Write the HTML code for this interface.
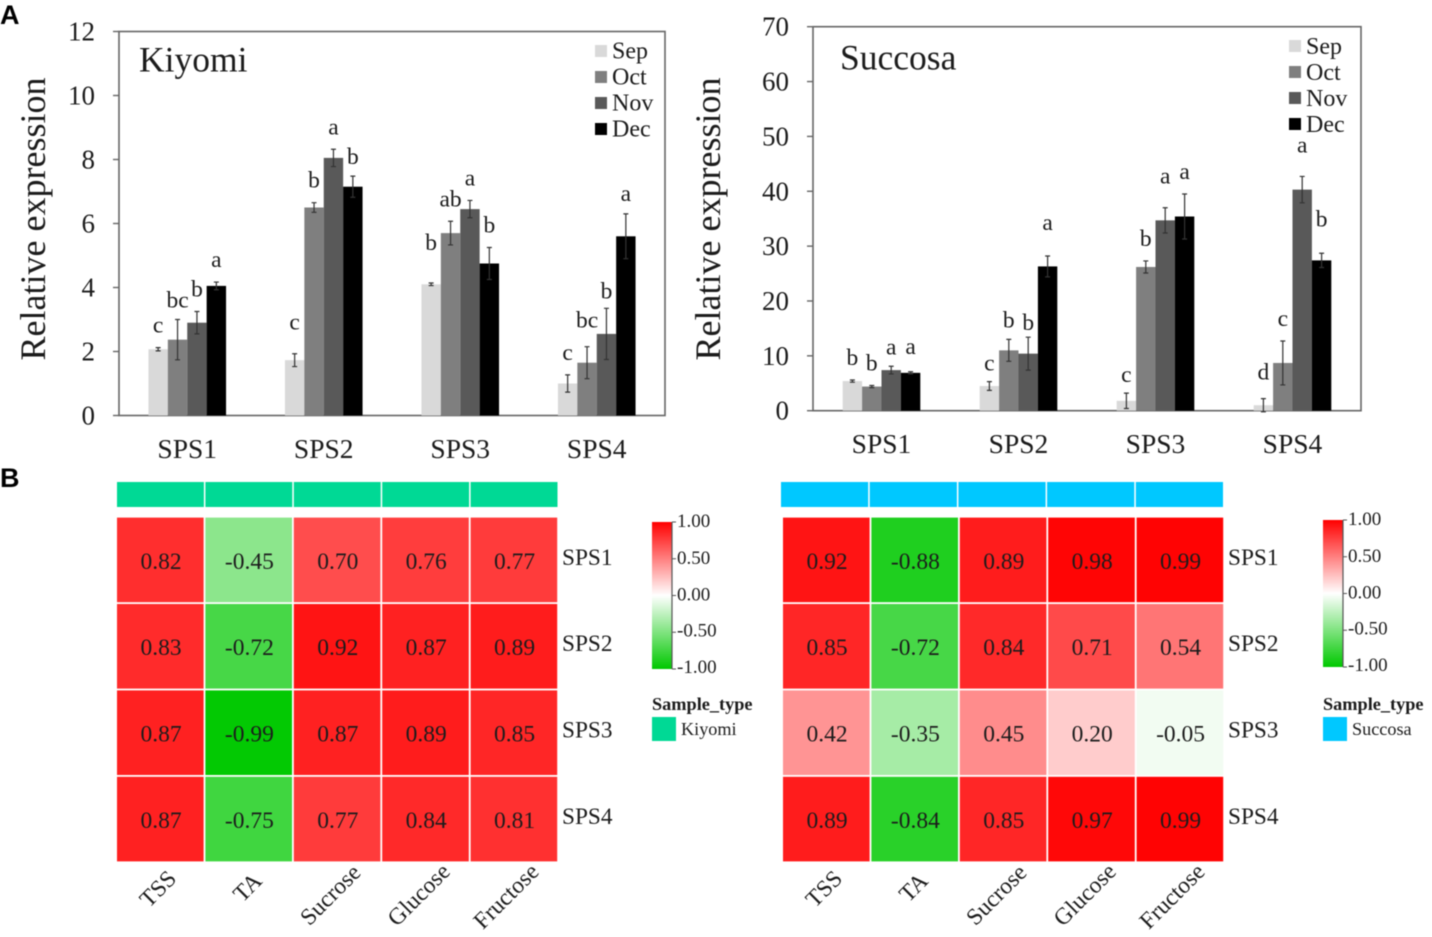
<!DOCTYPE html>
<html lang="en">
<head>
<meta charset="utf-8">
<title>Relative expression and correlation heatmaps</title>
<style>
html,body{margin:0;padding:0;background:#fff;width:1432px;height:937px;overflow:hidden}
svg{display:block;filter:blur(0.55px)}
text{font-family:"Liberation Serif",serif;fill:#1c1c1c}
.panel{font-family:"Liberation Sans",sans-serif;font-weight:700;font-size:27px;fill:#000}
</style>
</head>
<body>
<svg id="fig" xmlns="http://www.w3.org/2000/svg" width="1432" height="937" viewBox="0 0 1432 937">
  <text class="panel" x="0" y="24">A</text>
  <text class="panel" x="0" y="487">B</text>
  <g id="chart-kiyomi"></g>
  <g id="chart-succosa"></g>
  <g id="heat-kiyomi"></g>
  <g id="heat-succosa"></g>
</svg>
<script>
/* ---- bar chart data ---- */
const genes = ['SPS1', 'SPS2', 'SPS3', 'SPS4'];
const months = ['Sep', 'Oct', 'Nov', 'Dec'];
const kiyomiTicks = [0, 2, 4, 6, 8, 10, 12];
const succosaTicks = [0, 10, 20, 30, 40, 50, 60, 70];

const kiyomiSep = [2.07, 1.73, 4.10, 1.00];
const kiyomiOct = [2.37, 6.50, 5.70, 1.65];
const kiyomiNov = [2.90, 8.05, 6.45, 2.55];
const kiyomiDec = [4.05, 7.15, 4.75, 5.60];
const kiyomiSepErr = [0.05, 0.20, 0.04, 0.27];
const kiyomiOctErr = [0.63, 0.15, 0.37, 0.50];
const kiyomiNovErr = [0.35, 0.27, 0.27, 0.80];
const kiyomiDecErr = [0.12, 0.33, 0.50, 0.70];
const kiyomiSepSig = ['c', 'c', 'b', 'c'];
const kiyomiOctSig = ['bc', 'b', 'ab', 'bc'];
const kiyomiNovSig = ['b', 'a', 'a', 'b'];
const kiyomiDecSig = ['a', 'b', 'b', 'a'];

const succosaSep = [5.4, 4.5, 1.8, 1.0];
const succosaOct = [4.4, 11.0, 26.2, 8.7];
const succosaNov = [7.4, 10.4, 34.7, 40.3];
const succosaDec = [6.9, 26.3, 35.4, 27.4];
const succosaSepErr = [0.2, 0.8, 1.4, 1.2];
const succosaOctErr = [0.2, 2.0, 1.1, 4.0];
const succosaNovErr = [0.7, 3.0, 2.3, 2.4];
const succosaDecErr = [0.2, 1.9, 4.1, 1.3];
const succosaSepSig = ['b', 'c', 'c', 'd'];
const succosaOctSig = ['b', 'b', 'b', 'c'];
const succosaNovSig = ['a', 'b', 'a', 'a'];
const succosaDecSig = ['a', 'a', 'a', 'b'];

/* ---- heatmap data ---- */
const traits = ['TSS', 'TA', 'Sucrose', 'Glucose', 'Fructose'];
const heatGenes = ['SPS1', 'SPS2', 'SPS3', 'SPS4'];
const scaleTicks = ['1.00', '0.50', '0.00', '-0.50', '-1.00'];
const kiyomiSps1 = ['0.82', '-0.45', '0.70', '0.76', '0.77'];
const kiyomiSps2 = ['0.83', '-0.72', '0.92', '0.87', '0.89'];
const kiyomiSps3 = ['0.87', '-0.99', '0.87', '0.89', '0.85'];
const kiyomiSps4 = ['0.87', '-0.75', '0.77', '0.84', '0.81'];
const succosaSps1 = ['0.92', '-0.88', '0.89', '0.98', '0.99'];
const succosaSps2 = ['0.85', '-0.72', '0.84', '0.71', '0.54'];
const succosaSps3 = ['0.42', '-0.35', '0.45', '0.20', '-0.05'];
const succosaSps4 = ['0.89', '-0.84', '0.85', '0.97', '0.99'];

const SVGNS = 'http://www.w3.org/2000/svg';
const barFills = ['#d9d9d9', '#7f7f7f', '#595959', '#000000'];

function make(tag, attrs, parent, name, content) {
  const el = document.createElementNS(SVGNS, tag);
  for (const k in attrs) el.setAttribute(k, attrs[k]);
  
  
  if (content !== undefined) el.textContent = content;
  parent.appendChild(el);
  return el;
}

function drawBars(opts) {
  const g = document.getElementById(opts.id);
  const L = opts.left, R = opts.right, T = opts.top, B = opts.bottom;
  const yMax = opts.ticks[opts.ticks.length - 1];
  const y = v => B - (v / yMax) * (B - T);
  const band = (R - L) / genes.length;
  const bw = 19.4;
  const x = (gi, si) => L + band * (gi + 0.5) + (si - 2) * bw;

  make('rect', {x: L, y: T, width: R - L, height: B - T, fill: 'none', stroke: '#666', 'stroke-width': 1.6}, g, 'plot-frame');
  opts.ticks.forEach(t => {
    make('line', {x1: L - 6, x2: L, y1: y(t), y2: y(t), stroke: '#666', 'stroke-width': 1.4}, g, 'y-tick');
    make('text', {x: L - 24, y: y(t) + 9, 'text-anchor': 'end', 'font-size': 27}, g, 'y-tick-label', t);
  });
  make('text', {transform: 'translate(' + opts.titleX + ' 219) rotate(-90)', 'text-anchor': 'middle', 'font-size': 36}, g, 'y-axis-title', 'Relative expression');
  make('text', {x: opts.nameX, y: T + opts.nameDy, 'font-size': 35.5}, g, 'cultivar-title', opts.name);

  opts.series.forEach((vals, si) => {
    vals.forEach((v, gi) => {
      make('rect', {x: x(gi, si), y: y(v), width: bw, height: B - y(v), fill: barFills[si]}, g, 'bar-' + months[si].toLowerCase() + '-' + genes[gi].toLowerCase());
    });
  });
  opts.series.forEach((vals, si) => {
    vals.forEach((v, gi) => {
      const cx = x(gi, si) + bw / 2, e = opts.errors[si][gi];
      const hi = y(v + e), lo = y(v - e);
      const lift = (opts.letterLift[si + '-' + gi]) || 0;
      make('path', {d: 'M' + cx + ' ' + hi + 'V' + lo + 'M' + (cx - 2.5) + ' ' + hi + 'H' + (cx + 2.5) + 'M' + (cx - 2.5) + ' ' + lo + 'H' + (cx + 2.5), stroke: '#333', 'stroke-width': 1.2, fill: 'none'}, g, 'error-bar');
      make('text', {x: cx, y: hi - 15 - lift, 'text-anchor': 'middle', 'font-size': 23.5}, g, 'significance-letter', opts.letters[si][gi]);
    });
  });
  genes.forEach((n, gi) => {
    make('text', {x: L + band * (gi + 0.5), y: B + 42.5, 'text-anchor': 'middle', 'font-size': 27.5}, g, 'x-tick-label', n);
  });
  months.forEach((m, si) => {
    const ly = opts.legendY + si * 26;
    make('rect', {x: opts.legendX, y: ly - 6, width: 12, height: 12, fill: barFills[si]}, g, 'legend-swatch-' + m.toLowerCase());
    make('text', {x: opts.legendX + 17, y: ly + opts.legendTextDy, 'font-size': 24}, g, 'legend-label-' + m.toLowerCase(), m);
  });
}

function cellColor(v) {
  const a = Math.abs(v);
  if (v >= 0) {
    const c = Math.round(255 * (1 - a));
    return 'rgb(255,' + c + ',' + c + ')';
  }
  return 'rgb(' + Math.round(255 * (1 - a)) + ',' + Math.round(255 - 55 * a) + ',' + Math.round(255 * (1 - a)) + ')';
}

function drawHeat(opts) {
  const g = document.getElementById(opts.id);
  const cw = 88.4, ch = 86.4, L = opts.left, T = 517.6;
  traits.forEach((t, c) => {
    make('rect', {x: opts.stripLeft + c * opts.stripPitch, y: 482, width: opts.stripPitch - 1.5, height: 25, fill: opts.color}, g, 'sample-type-strip');
  });
  opts.rows.forEach((row, r) => {
    row.forEach((val, c) => {
      make('rect', {x: L + c * cw, y: T + r * ch, width: cw - 1.8, height: ch - 1.8, fill: cellColor(parseFloat(val))}, g, 'heatmap-cell');
      make('text', {x: L + c * cw + 44, y: T + r * ch + 51.2, 'text-anchor': 'middle', 'font-size': 23.5}, g, 'cell-value', val);
    });
    make('text', {x: L + 445, y: T + r * ch + 47.2, 'font-size': 23.3}, g, 'row-label', heatGenes[r]);
  });
  traits.forEach((t, c) => {
    const ax = L + c * cw + 44 - t.length * 1.1, ay = 884 + t.length * 1.5;
    make('text', {transform: 'translate(' + ax + ' ' + ay + ') rotate(-45) translate(0 8)', 'text-anchor': 'middle', 'font-size': 23.5}, g, 'column-label', t);
  });

  const gradId = opts.id + '-grad';
  const defs = make('defs', {}, g, 'scale-defs');
  const grad = make('linearGradient', {id: gradId, x1: 0, y1: 0, x2: 0, y2: 1}, defs, 'scale-gradient');
  [['0', '#ff0000'], ['0.5', '#ffffff'], ['1', '#00c800']].forEach(s => {
    make('stop', {offset: s[0], 'stop-color': s[1]}, grad, 'scale-stop');
  });
  const bx = opts.scaleX, by = opts.scaleY, bh = 147;
  make('rect', {x: bx, y: by, width: 20, height: bh, fill: 'url(#' + gradId + ')'}, g, 'color-scale');
  make('line', {x1: bx + 20, x2: bx + 20, y1: by, y2: by + bh, stroke: '#555', 'stroke-width': 1.2}, g, 'color-scale-axis');
  scaleTicks.forEach((t, i) => {
    const ty = by + i * bh / 4;
    make('line', {x1: bx + 20, x2: bx + 24, y1: ty, y2: ty, stroke: '#555', 'stroke-width': 1}, g, 'color-scale-tick');
    make('text', {x: bx + 25, y: ty + 5 - (i > 2 ? 1 : 0), 'font-size': 19}, g, 'color-scale-label', t);
  });
  make('text', {x: bx, y: 710, 'font-size': 18.3, 'font-weight': 700}, g, 'legend-title', 'Sample_type');
  make('rect', {x: bx, y: 717, width: 24, height: 24, fill: opts.color}, g, 'legend-swatch');
  make('text', {x: bx + 29, y: 735, 'font-size': 18.2}, g, 'legend-label', opts.name);
}

drawBars({
  id: 'chart-kiyomi', name: 'Kiyomi', left: 119, right: 665, top: 31.5, bottom: 415.5,
  ticks: kiyomiTicks, titleX: 45, nameX: 139, nameDy: 40, legendX: 595, legendY: 51, legendTextDy: 7.5,
  series: [kiyomiSep, kiyomiOct, kiyomiNov, kiyomiDec],
  errors: [kiyomiSepErr, kiyomiOctErr, kiyomiNovErr, kiyomiDecErr],
  letters: [kiyomiSepSig, kiyomiOctSig, kiyomiNovSig, kiyomiDecSig],
  letterLift: {'0-1': 9, '0-2': 18, '1-3': 4, '2-3': -5, '1-0': -3, '3-1': -3, '3-3': -2}
});
drawBars({
  id: 'chart-succosa', name: 'Succosa', left: 813, right: 1361, top: 26.7, bottom: 410.7,
  ticks: succosaTicks, titleX: 720, nameX: 840, nameDy: 43, legendX: 1289, legendY: 46, legendTextDy: 8,
  series: [succosaSep, succosaOct, succosaNov, succosaDec],
  errors: [succosaSepErr, succosaOctErr, succosaNovErr, succosaDecErr],
  letters: [succosaSepSig, succosaOctSig, succosaNovSig, succosaDecSig],
  letterLift: {'2-0': -3, '3-0': 3, '0-1': -4, '1-1': -3, '2-1': -8, '3-1': 11, '0-2': -4, '2-2': 9, '0-3': 4, '2-3': 9, '3-3': 12}
});
drawHeat({
  id: 'heat-kiyomi', name: 'Kiyomi', left: 117, stripLeft: 117, stripPitch: 88.4, color: '#00d995', scaleX: 652, scaleY: 522,
  rows: [kiyomiSps1, kiyomiSps2, kiyomiSps3, kiyomiSps4]
});
drawHeat({
  id: 'heat-succosa', name: 'Succosa', left: 783, stripLeft: 781, stripPitch: 88.7, color: '#00c8ff', scaleX: 1323, scaleY: 520,
  rows: [succosaSps1, succosaSps2, succosaSps3, succosaSps4]
});
</script>
</body>
</html>
